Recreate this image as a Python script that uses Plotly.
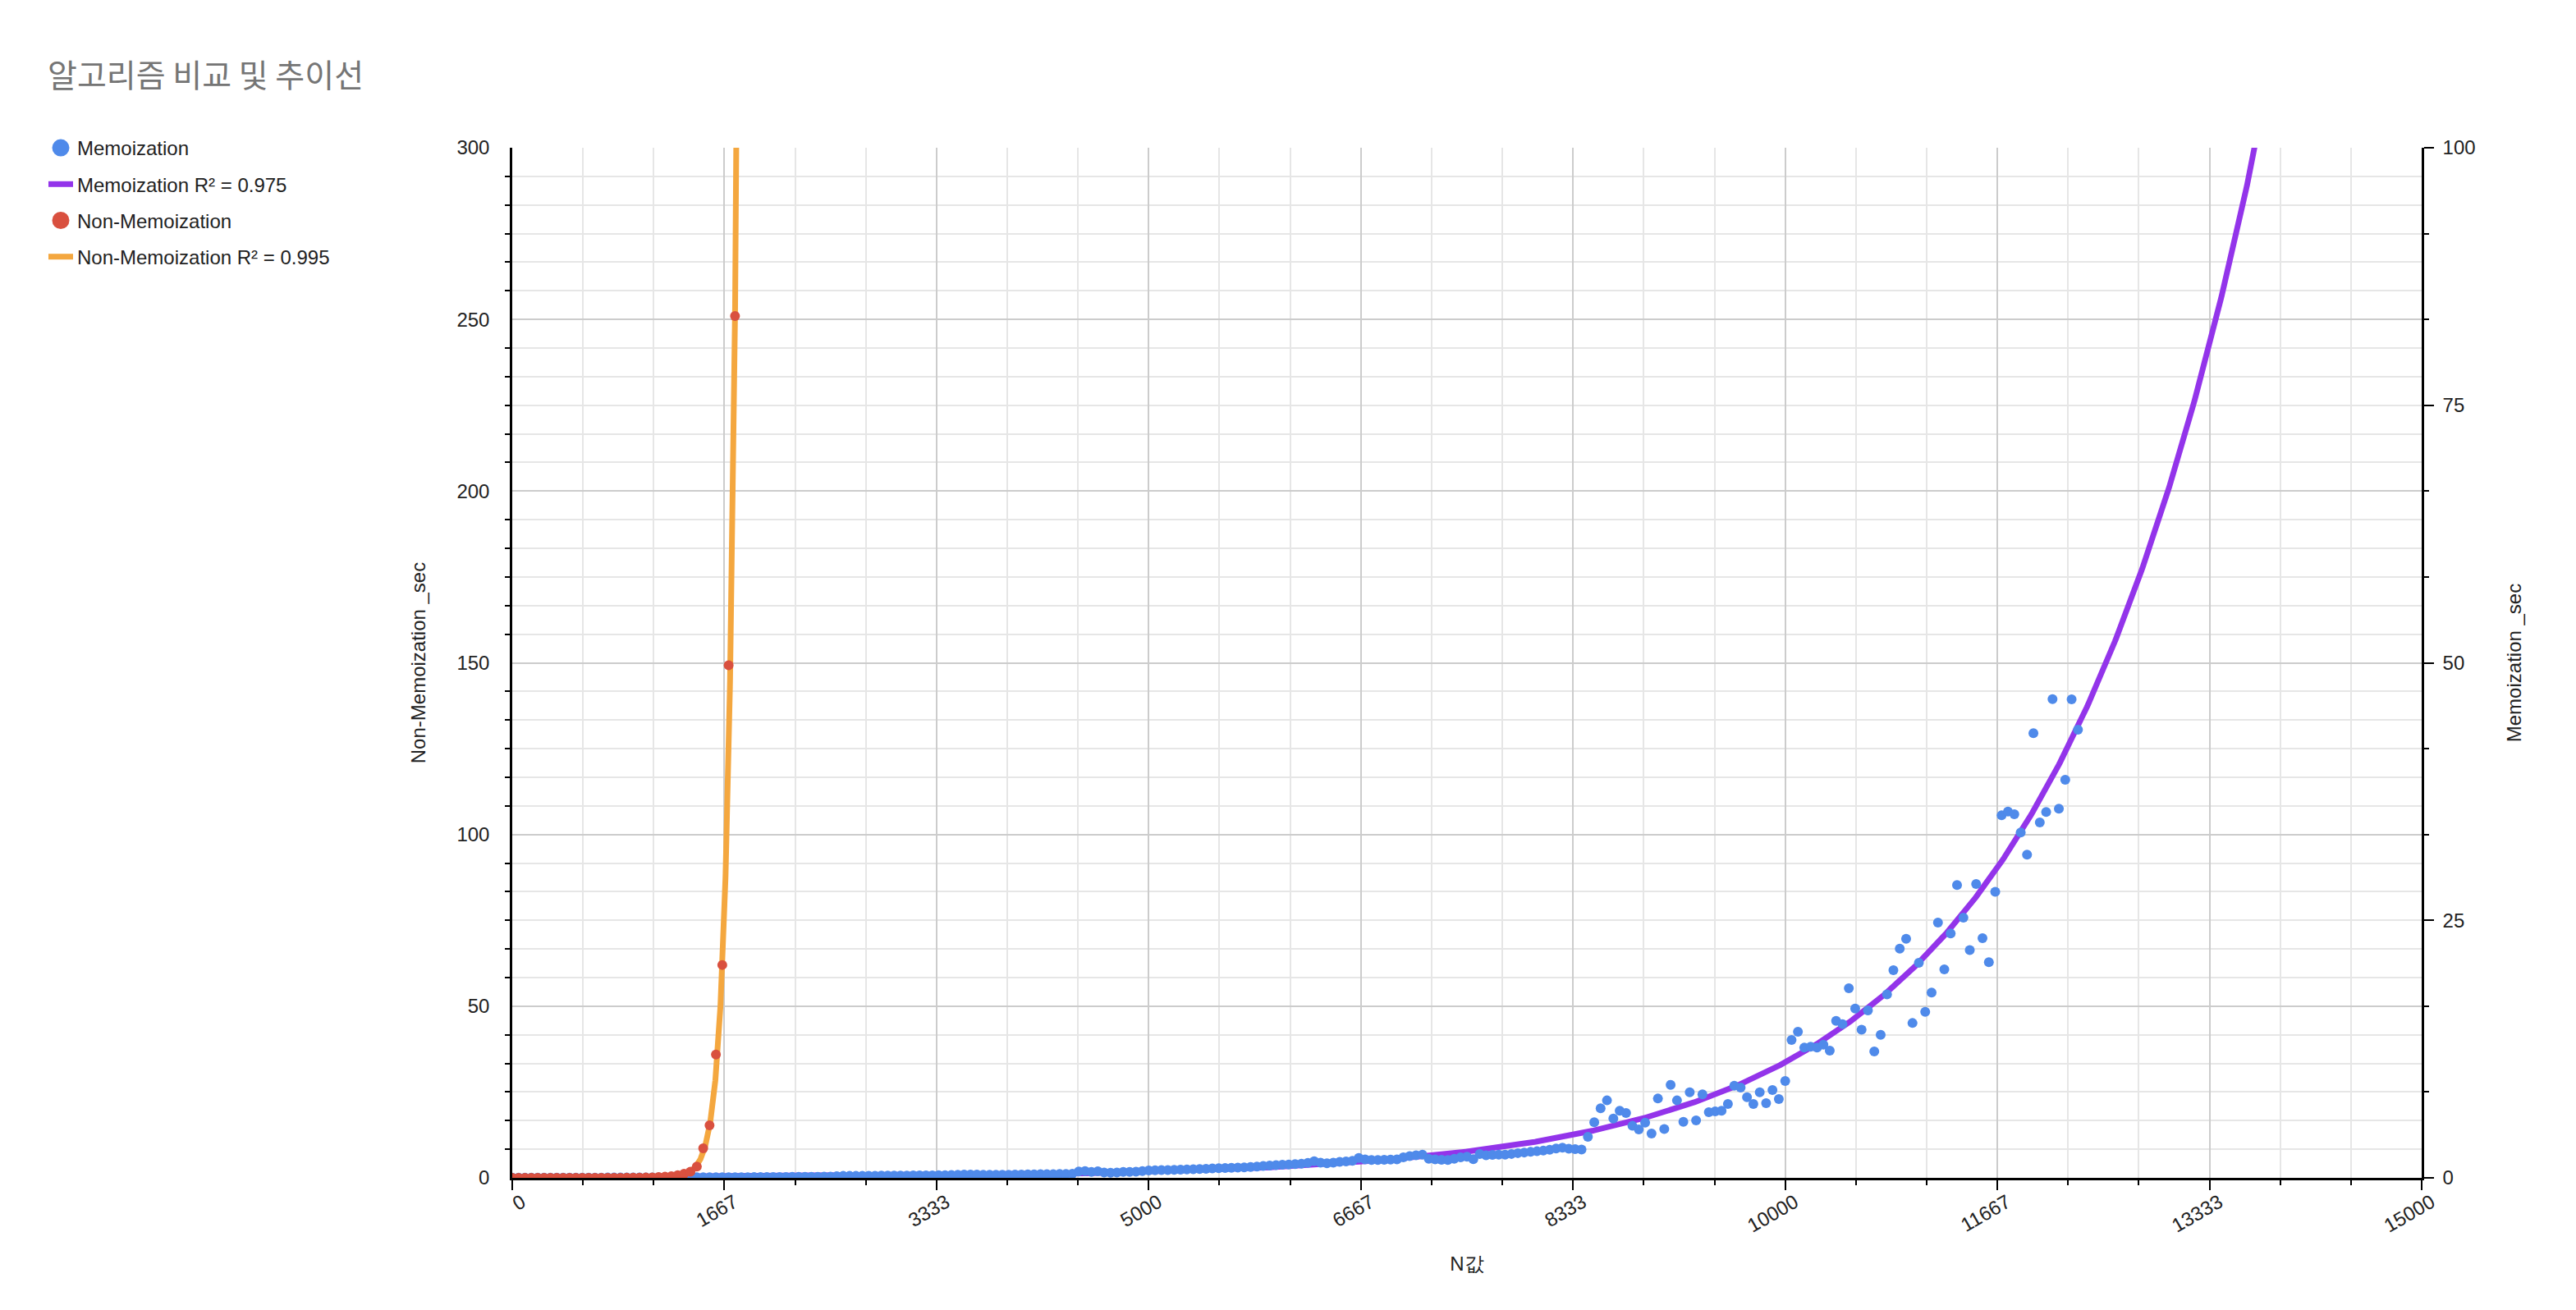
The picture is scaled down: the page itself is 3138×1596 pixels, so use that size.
import numpy as np
import plotly.graph_objects as go

TITLE = "알고리즘 비교 및 추이선"
X_TITLE = "N값"
Y_LEFT_TITLE = "Non-Memoization _sec"
Y_RIGHT_TITLE = "Memoization _sec"

MEMO_NAME = "Memoization"
NONMEMO_NAME = "Non-Memoization"
MEMO_R2 = 0.975
NONMEMO_R2 = 0.995

# N values (step 50)
memo_n = list(range(0, 12301, 50))
nonmemo_n = list(range(0, 1751, 50))

# Memoization seconds (right axis)
memo_sec = [
    0.01, 0.01, 0.01, 0.01, 0.01, 0.01, 0.01, 0.02, 0.02, 0.02,
    0.02, 0.02, 0.02, 0.02, 0.02, 0.03, 0.03, 0.03, 0.03, 0.03,
    0.03, 0.03, 0.03, 0.04, 0.04, 0.04, 0.04, 0.04,
    0.04, 0.05, 0.05, 0.05, 0.05, 0.05, 0.06, 0.06, 0.06, 0.06, 0.07, 0.07,
    0.07, 0.08, 0.08, 0.08, 0.09, 0.09, 0.10, 0.10, 0.10, 0.11,
    0.11, 0.15, 0.19, 0.19, 0.19, 0.20, 0.20, 0.20, 0.21, 0.21,
    0.22, 0.22, 0.22, 0.23, 0.23, 0.24, 0.24, 0.25, 0.26, 0.27,
    0.29, 0.31, 0.32, 0.31, 0.30, 0.30, 0.29, 0.29, 0.30, 0.31,
    0.32, 0.33, 0.34, 0.35, 0.36, 0.36, 0.37, 0.38, 0.40, 0.62,
    0.66, 0.58, 0.64, 0.52, 0.50, 0.52, 0.57, 0.58, 0.60, 0.66,
    0.72, 0.73, 0.75, 0.76, 0.78, 0.80, 0.82, 0.84, 0.86, 0.88,
    0.91, 0.93, 0.95, 0.97, 0.99, 1.01, 1.06, 1.10, 1.15, 1.20,
    1.24, 1.27, 1.30, 1.33, 1.38, 1.45, 1.62, 1.48, 1.41, 1.48,
    1.55, 1.60, 1.66, 1.94, 1.80, 1.73, 1.74, 1.76, 1.78, 1.80,
    1.99, 2.12, 2.20, 2.26, 1.86, 1.80, 1.76, 1.73, 1.85, 2.00,
    2.05, 1.81, 2.31, 2.20, 2.24, 2.25, 2.26, 2.32, 2.40, 2.46,
    2.52, 2.58, 2.64, 2.72, 2.84, 2.92, 2.82, 2.79, 2.75, 3.98,
    5.39, 6.75, 7.52, 5.76, 6.51, 6.29, 5.05, 4.70, 5.36, 4.30,
    7.70, 4.75, 9.03, 7.52, 5.44, 8.31, 5.58, 8.10, 6.37, 6.45,
    6.51, 7.17, 8.95, 8.76, 7.83, 7.17, 8.31, 7.25, 8.53, 7.65,
    9.40, 13.39, 14.18, 12.64, 12.72, 12.64, 12.93, 12.35, 15.24, 14.93,
    18.41, 16.44, 14.39, 16.25, 12.27, 13.89, 17.80, 20.16, 22.26, 23.21,
    15.03, 20.88, 16.12, 17.98, 24.78, 20.24, 23.72, 28.42, 25.26, 22.12,
    28.53, 23.27, 20.93, 27.76, 35.19, 35.56, 35.30, 33.52, 31.37, 43.16,
    34.50, 35.51, 46.48, 35.83, 38.65, 46.45, 43.51,
]

# Non-Memoization seconds (left axis)
nonmemo_sec = [
    0.00, 0.00, 0.00, 0.00, 0.00, 0.00, 0.00, 0.00, 0.00, 0.00,
    0.00, 0.00, 0.01, 0.01, 0.01, 0.01, 0.02, 0.02, 0.03, 0.04,
    0.06, 0.09, 0.14, 0.22, 0.33, 0.50, 0.76, 1.2, 1.8, 3.3,
    8.6, 15.3, 35.9, 62.0, 149.3, 251.0,
]

# Exponential trendline coefficients  y = a * exp(b * N)
MEMO_TREND = (0.0298, 5.93e-4)
NONMEMO_TREND = (4.83e-9, 0.0141)

X_TICK_VALS = [0, 1666.67, 3333.33, 5000, 6666.67, 8333.33, 10000, 11666.67, 13333.33, 15000]
X_TICK_TEXT = ["0", "1667", "3333", "5000", "6667", "8333", "10000", "11667", "13333", "15000"]

BLUE = "#4f8aea"
RED = "#d9503f"
PURPLE = "#9334ea"
ORANGE = "#f4a73f"

trend_x_memo = np.linspace(0, 15000, 1501)
trend_y_memo = MEMO_TREND[0] * np.exp(MEMO_TREND[1] * trend_x_memo)
trend_x_non = np.linspace(0, 1800, 1801)
trend_y_non = NONMEMO_TREND[0] * np.exp(NONMEMO_TREND[1] * trend_x_non)

# 'y'  = Memoization axis (right side, main layer)
# 'y2' = Non-Memoization axis (left side, drawn above the memoization layer)
fig = go.Figure()
fig.add_trace(go.Scatter(x=trend_x_memo, y=trend_y_memo, yaxis="y", mode="lines",
                         line=dict(color=PURPLE, width=7),
                         name=f"{MEMO_NAME} R² = {MEMO_R2}", legendrank=2, legendgroup="g2",
                         hoverinfo="skip"))
fig.add_trace(go.Scatter(x=memo_n, y=memo_sec, yaxis="y", mode="markers",
                         marker=dict(color=BLUE, size=12), name=MEMO_NAME, showlegend=False))
fig.add_trace(go.Scatter(x=trend_x_non, y=trend_y_non, yaxis="y2", mode="lines",
                         line=dict(color=ORANGE, width=7),
                         name=f"{NONMEMO_NAME} R² = {NONMEMO_R2}", legendrank=4, legendgroup="g4",
                         hoverinfo="skip"))
fig.add_trace(go.Scatter(x=nonmemo_n, y=nonmemo_sec, yaxis="y2", mode="markers",
                         marker=dict(color=RED, size=12), name=NONMEMO_NAME, showlegend=False))
# legend entries with larger symbols
fig.add_trace(go.Scatter(x=[None], y=[None], mode="markers",
                         marker=dict(color=BLUE, size=24, line=dict(color=BLUE, width=5)),
                         name=MEMO_NAME, legendrank=1, legendgroup="g1"))
fig.add_trace(go.Scatter(x=[None], y=[None], mode="markers",
                         marker=dict(color=RED, size=24, line=dict(color=RED, width=5)),
                         name=NONMEMO_NAME, legendrank=3, legendgroup="g3"))

W, H = 3138, 1596
OFF = 8  # page body margin
PW, PH = 2326, 1255
L, T = 624 - OFF, 180 - OFF
R, B = W - L - PW, H - T - PH

tickfont = dict(family="Liberation Sans, Arial, sans-serif", size=24, color="#222222")
titlefont = dict(family="Liberation Sans, Arial, sans-serif", size=24, color="#222222")
MAJ_GRID = "#cccccc"
MIN_GRID = "#e6e6e6"

fig.update_layout(
    width=W, height=H,
    margin=dict(l=L, r=R, t=T, b=B, autoexpand=False),
    paper_bgcolor="white", plot_bgcolor="white",
    font=dict(family="Liberation Sans, Arial, sans-serif", size=24, color="#222222"),
    title=dict(text=TITLE, x=(58 - OFF) / W, xref="container", xanchor="left",
               y=1 - (92 - OFF) / H, yref="container", yanchor="middle",
               font=dict(family="Noto Sans CJK KR", size=39, color="#757575")),
    showlegend=True,
    legend=dict(x=(46 - L) / PW, xanchor="left", y=1 + 22 / PH, yanchor="top",
                font=dict(family="Liberation Sans, Arial, sans-serif", size=24, color="#222222"),
                tracegroupgap=10, bgcolor="rgba(0,0,0,0)"),
    xaxis=dict(range=[0, 15000], tickmode="array", tickvals=X_TICK_VALS, ticktext=X_TICK_TEXT,
               tickangle=-30, ticks="outside", ticklen=12, tickwidth=2, tickcolor="black",
               tickfont=tickfont, ticklabelstandoff=-8, ticklabelshift=12,
               showline=True, linecolor="black", linewidth=2.5,
               showgrid=True, gridcolor=MAJ_GRID, gridwidth=2, zeroline=False,
               minor=dict(tick0=0, dtick=15000 / 27, ticks="outside", ticklen=6, tickwidth=2,
                          tickcolor="black", showgrid=True, gridcolor=MIN_GRID, gridwidth=2),
               title=dict(text=X_TITLE, font=titlefont, standoff=26)),
    yaxis=dict(side="right", anchor="x", range=[0, 100], tickmode="linear",
               tick0=0, dtick=25, ticks="outside", ticklen=12, tickwidth=2, tickcolor="black",
               tickfont=tickfont, ticklabelstandoff=6,
               showline=True, linecolor="black", linewidth=2.5, showgrid=False, zeroline=False,
               minor=dict(tick0=0, dtick=25 / 3, ticks="outside", ticklen=6, tickwidth=2,
                          tickcolor="black", showgrid=False),
               title=dict(text=Y_RIGHT_TITLE, font=titlefont, standoff=40)),
    yaxis2=dict(overlaying="y", side="left", anchor="x", range=[0, 300], tickmode="linear",
                tick0=0, dtick=50, ticks="",
                tickfont=tickfont, ticklabelstandoff=20,
                showline=True, linecolor="black", linewidth=2.5,
                showgrid=True, gridcolor=MAJ_GRID, gridwidth=2, zeroline=False,
                minor=dict(tick0=0, dtick=50 / 6, ticks="outside", ticklen=6, tickwidth=2,
                           tickcolor="black", showgrid=True, gridcolor=MIN_GRID, gridwidth=2),
                title=dict(text=Y_LEFT_TITLE, font=titlefont, standoff=32)),
    # overlay axes providing the inner halves of the crossing tick marks
    xaxis2=dict(overlaying="x", anchor="y", side="bottom", range=[0, 15000], tickmode="array",
                tickvals=X_TICK_VALS, ticks="inside", ticklen=12, tickwidth=2, tickcolor="black",
                showticklabels=False, showgrid=False, zeroline=False, showline=False,
                minor=dict(tick0=0, dtick=15000 / 27, ticks="inside", ticklen=6, tickwidth=2,
                           tickcolor="black", showgrid=False)),
    yaxis3=dict(overlaying="y", anchor="x", side="left", range=[0, 300], tickmode="linear",
                tick0=0, dtick=50, ticks="", showticklabels=False, showgrid=False,
                zeroline=False, showline=False,
                minor=dict(tick0=0, dtick=50 / 6, ticks="inside", ticklen=6, tickwidth=2,
                           tickcolor="black", showgrid=False)),
    yaxis4=dict(overlaying="y", anchor="x", side="right", range=[0, 100], tickmode="linear",
                tick0=0, dtick=25, ticks="inside", ticklen=12, tickwidth=2, tickcolor="black",
                showticklabels=False, showgrid=False, zeroline=False, showline=False,
                minor=dict(tick0=0, dtick=25 / 3, ticks="inside", ticklen=6, tickwidth=2,
                           tickcolor="black", showgrid=False)),
)

fig.write_html("out.html")
